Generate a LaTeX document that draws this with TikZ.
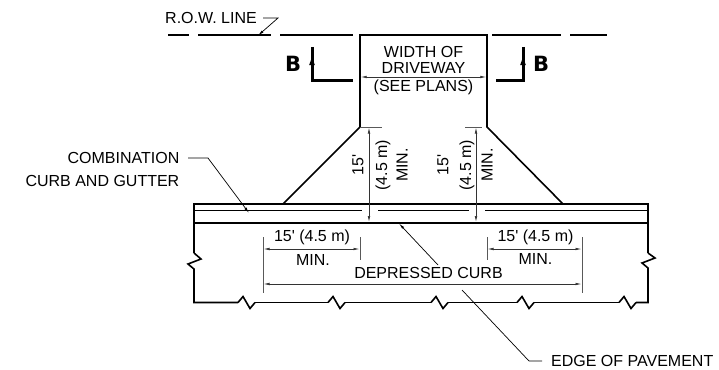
\documentclass[tikz,border=0pt]{standalone}
\usepackage{fontspec}
\setmainfont{Liberation Sans}
\newfontfamily\markfont{DejaVu Sans}
\usetikzlibrary{arrows.meta}
\newcommand{\ft}{\textquotesingle}

\begin{document}
\begin{tikzpicture}[x=1pt,y=-1pt,
  lbl/.style={inner sep=0pt,font=\fontsize{16}{18}\selectfont},
  secmark/.style={inner sep=0pt,font=\markfont\bfseries\fontsize{21}{22}\selectfont},
  curb/.style={line width=1.6pt,line join=miter},
  heavy/.style={line width=2.4pt},
  section/.style={line width=3pt},
  thinline/.style={line width=0.7pt},
  dim/.style={line width=0.7pt,black!80,{Latex[length=6pt,width=2.6pt]}-{Latex[length=6pt,width=2.6pt]}},
  ext/.style={line width=0.8pt,black!65},
  leader/.style={line width=0.7pt,-{Latex[length=6pt,width=2.6pt]}}]
\useasboundingbox (0,0) rectangle (719,369);

\foreach \a/\b in {168/189,198/271,280/353,492/561,570/607}
  \draw[curb] (\a,35) -- (\b,35);

\coordinate (drvll) at (360,127);
\coordinate (drvlr) at (487,127);
\draw[curb] (283,204) -- (drvll) -- (360,35) -- (487,35) -- (drvlr) -- (563,204);

\draw[section] (312,47) -- (312,80) -- (353,80);
\draw[section] (523,47) -- (523,80) -- (496,80);
\fill (312,57) -- (314.8,65) -- (309.2,65) -- cycle;
\fill (523,57) -- (525.8,65) -- (520.2,65) -- cycle;
\node[secmark] (markl) at (293,64) {B};
\node[secmark] (markr) at (541,64) {B};

\node[lbl,anchor=west] (rowtxt) at (165,18) {R.O.W. LINE};
\coordinate (rowbend) at (278,18);
\coordinate (rowend) at (258,35.5);
\draw[leader] (263,18) -- (rowbend) -- (rowend);

\node[lbl] (wd1) at (423.5,52) {WIDTH OF};
\node[lbl] (wd2) at (423.5,68) {DRIVEWAY};
\node[lbl] (wd3) at (423.5,87) {(SEE PLANS)};
\draw[dim] (360.7,77) -- (486.3,77);

\draw[curb] (194,253) -- (194,204) -- (648,204) -- (648,253);
\draw[thinline] (194,210.5) -- (362,210.5);
\draw[thinline] (378,210.5) -- (469,210.5);
\draw[thinline] (485,210.5) -- (648,210.5);
\draw[heavy] (194,223) -- (648,223);

\draw[curb] (194,253) -- (201,259) -- (188,264) -- (194,269) -- (194,302.5) -- (238,302.5);
\draw[curb] (648,253) -- (655,258) -- (642,263) -- (648,268) -- (648,302.5) -- (636,302.5);
\foreach \a/\b in {255/328,345/431,448/517,534/619}
  \draw[curb] (\a,302.5) -- (\b,302.5);
\foreach \x in {243,333,436,522,624}
  \draw[curb] (\x-5,302.5) -- (\x,296.5) -- (\x+7,308.5) -- (\x+12,302.5);

\draw[ext] (360,127) -- (382,127);
\draw[ext] (465,127) -- (482,127);
\draw[dim] (369,127.5) -- (369,222);
\draw[dim] (476,127.5) -- (476,222);
\node[lbl,rotate=90] (l15) at (358,165) {15\ft};
\node[lbl,rotate=90] (lm) at (383,165) {(4.5 m)};
\node[lbl,rotate=90] (lmin) at (402,165) {MIN.};
\node[lbl,rotate=90] (r15) at (443,165) {15\ft};
\node[lbl,rotate=90] (rm) at (467,165) {(4.5 m)};
\node[lbl,rotate=90] (rmin) at (487,165) {MIN.};

\node[lbl,anchor=east] (comb1) at (179.5,158) {COMBINATION};
\node[lbl,anchor=east] (comb2) at (179.5,181) {CURB AND GUTTER};
\coordinate (combbend) at (208,158);
\coordinate (combend) at (249,213);
\draw[leader] (188,158) -- (combbend) -- (combend);

\draw[ext] (263,237) -- (263,293);
\draw[ext] (360,237) -- (360,260);
\draw[ext] (487,237) -- (487,260);
\draw[ext] (582,237) -- (582,293);
\draw[dim] (263.5,249) -- (359.5,249);
\draw[dim] (487.5,249) -- (581.5,249);
\draw[dim] (263.5,284) -- (581.5,284);
\node[lbl] (wl) at (312,237.5) {15\ft{} (4.5 m)};
\node[lbl] (ml) at (313,260) {MIN.};
\node[lbl] (wr) at (535.5,237.5) {15\ft{} (4.5 m)};
\node[lbl] (mr) at (535.5,259) {MIN.};
\node[lbl] (depr) at (428.5,273) {DEPRESSED CURB};

\coordinate (deprend) at (399,223.5);
\draw[leader] (438,265) -- (deprend);

\node[lbl,anchor=west] (edge) at (551,361) {EDGE OF PAVEMENT};
\coordinate (edgebend) at (529,361);
\coordinate (edgeend) at (462,290);
\draw[thinline] (edge.west) ++(-9,0) -- (edgebend) -- (edgeend);
\end{tikzpicture}
\end{document}
